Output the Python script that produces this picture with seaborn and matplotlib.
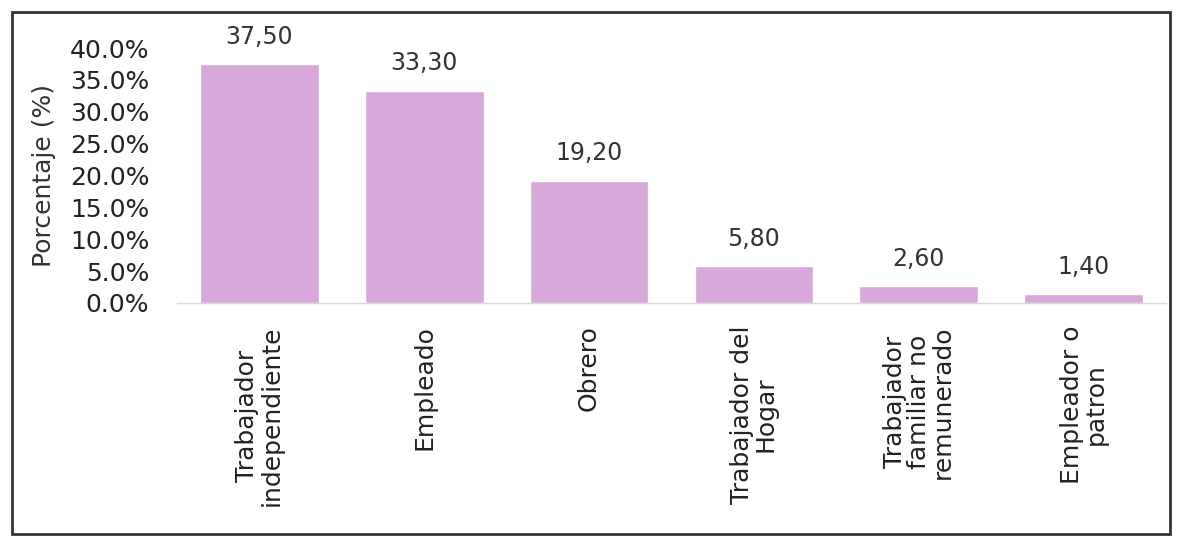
import matplotlib
matplotlib.use('Agg')
import matplotlib.pyplot as plt
import seaborn as sns
import pandas as pd
from matplotlib.patches import Rectangle

# Datos
categorias = ['Trabajador\nindependiente', 'Empleado', 'Obrero',
              'Trabajador del\nHogar', 'Trabajador\nfamiliar no\nremunerado',
              'Empleador o\npatron']
porcentajes = [37.50, 33.30, 19.20, 5.80, 2.60, 1.40]
etiquetas = ['37,50', '33,30', '19,20', '5,80', '2,60', '1,40']
ticks_y = [0, 5, 10, 15, 20, 25, 30, 35, 40]

sns.set_style('white')
plt.rcParams['font.family'] = ['DejaVu Sans']

df = pd.DataFrame({'categoria': categorias, 'porcentaje': porcentajes})

fig = plt.figure(figsize=(11.77, 5.39), dpi=100)
W, H = 1177, 539
ax = fig.add_axes([177 / W, 1 - 303 / H, (1166 - 177) / W, (303 - 48) / H])

sns.barplot(data=df, x='categoria', y='porcentaje', color='#D8A8DB',
            saturation=1, width=0.72, ax=ax)

ax.set_ylim(0, 40)
ax.set_xlim(-0.5, 5.5)
ax.set_yticks(ticks_y)
ax.set_yticklabels([f'{t:.1f}%' for t in ticks_y], fontsize=18, color='#222222')
ax.set_xticks(range(len(categorias)))
ax.set_xticklabels(categorias, rotation=90, va='top', ha='center',
                   multialignment='center', fontsize=18, color='#222222',
                   linespacing=1.0)
ax.tick_params(axis='y', length=0, pad=20)
ax.tick_params(axis='x', length=0, pad=16)
ax.set_xlabel('')
ax.set_ylabel('Porcentaje (%)', fontsize=18, color='#333333', labelpad=10)

for s in ['top', 'right', 'left']:
    ax.spines[s].set_visible(False)
ax.spines['bottom'].set_color('#d9d9d9')
ax.spines['bottom'].set_linewidth(1)

# Etiquetas de datos
for i, (v, t) in enumerate(zip(porcentajes, etiquetas)):
    ax.annotate(t, (i, v), xytext=(0, 11), textcoords='offset points',
                ha='center', va='bottom', fontsize=17, color='#333333',
                annotation_clip=False)

# Borde del gráfico
fig.patches.append(Rectangle((12 / W, 1 - 534 / H), (1170 - 12) / W, (534 - 12) / H,
                             transform=fig.transFigure, fill=False,
                             edgecolor='#333333', linewidth=2))

fig.savefig('out.png', dpi=100)
